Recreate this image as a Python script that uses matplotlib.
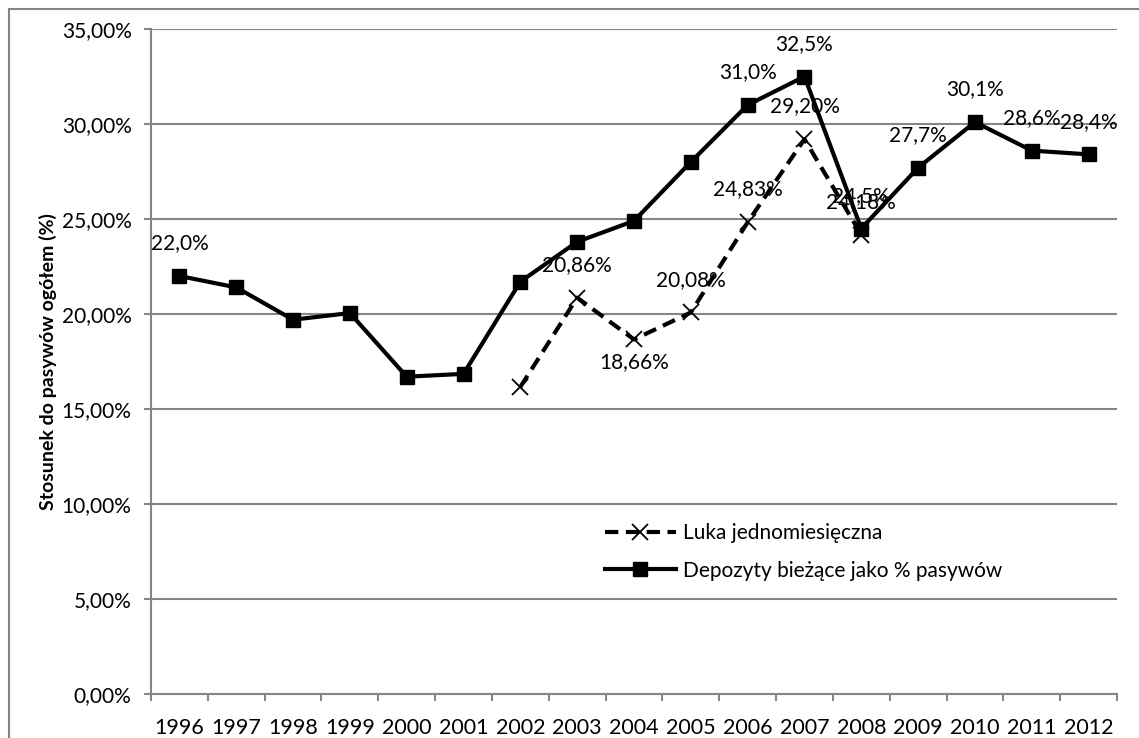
import numpy as np
import matplotlib
matplotlib.use("Agg")
from matplotlib import pyplot as plt
from matplotlib.patches import Rectangle
from matplotlib.ticker import FuncFormatter, FixedLocator

plt.rcParams['font.family'] = ['Lato', 'DejaVu Sans']

# data
years = [str(y) for y in range(1996, 2013)]
deposits = [22.0, 21.4, 19.7, 20.05, 16.7, 16.85, 21.7, 23.8, 24.9, 28.0,
            31.0, 32.5, 24.5, 27.7, 30.1, 28.6, 28.4]
gap = [np.nan] * 6 + [16.16, 20.86, 18.66, 20.08, 24.83, 29.20, 24.18] + [np.nan] * 4

# which points carry a data label
deposits_labelled = [0, 10, 11, 12, 13, 14, 15, 16]
gap_labelled = [7, 8, 9, 10, 11, 12]
gap_below = [8]

GRAY = '#868686'

fig = plt.figure(figsize=(11.39, 7.38), dpi=100)
ax = fig.add_axes([151 / 1139, 1 - 694 / 738, 966 / 1139, 665 / 738])

# outer chart border
fig.patches.append(Rectangle((9 / 1139, -0.05), 1.2, 1 - 9 / 738 + 0.05,
                             transform=fig.transFigure, fill=False,
                             edgecolor=GRAY, linewidth=1.5))

x = np.arange(len(years))
ax.plot(x, gap, color='black', linewidth=3, dashes=(3.2, 1.8),
        marker='x', markersize=11, markeredgewidth=1.3,
        label='Luka jednomiesięczna', zorder=3)
ax.plot(x, deposits, color='black', linewidth=3,
        marker='s', markersize=10,
        label='Depozyty bieżące jako % pasywów', zorder=4)

for i in deposits_labelled:
    ax.annotate(f"{deposits[i]:.1f}%".replace('.', ','), (x[i], deposits[i]),
                xytext=(0, 23.5), textcoords='offset points',
                ha='center', va='center', fontsize=15, zorder=5)
for i in gap_labelled:
    dy = -16 if i in gap_below else 23.5
    ax.annotate(f"{gap[i]:.2f}%".replace('.', ','), (x[i], gap[i]),
                xytext=(0, dy), textcoords='offset points',
                ha='center', va='center', fontsize=15, zorder=5)

ax.set_ylim(0, 35)
ax.set_yticks(np.arange(0, 36, 5))
ax.yaxis.set_major_formatter(FuncFormatter(lambda v, p: f"{v:.2f}%".replace('.', ',')))
ax.set_xlim(-0.5, len(years) - 0.5)
ax.xaxis.set_major_locator(FixedLocator(np.arange(-0.5, len(years), 1.0)))
ax.xaxis.set_major_formatter(FuncFormatter(lambda v, p: ''))
ax.xaxis.set_minor_locator(FixedLocator(x))
ax.set_xticklabels(years, minor=True)

ax.grid(axis='y', color=GRAY, linewidth=1.5)
ax.set_axisbelow(True)
for s in ['top', 'right']:
    ax.spines[s].set_visible(False)
for s in ['left', 'bottom']:
    ax.spines[s].set_color(GRAY)
    ax.spines[s].set_linewidth(1.5)

ax.tick_params(axis='y', length=5, width=1.5, color=GRAY, labelsize=15, pad=9)
ax.tick_params(axis='x', which='major', length=5, width=1.5, color=GRAY)
ax.tick_params(axis='x', which='minor', length=0, labelsize=15.5, pad=17)

ax.set_ylabel('Stosunek do pasywów ogółem (%)', fontsize=14, fontweight='bold')
ax.yaxis.set_label_coords(-0.097, 0.5)

ax.legend(loc='upper left', bbox_to_anchor=(605 / 1139, 1 - 523 / 738),
          bbox_transform=fig.transFigure, frameon=False, fontsize=15,
          borderpad=0, borderaxespad=0, handlelength=3.4, handletextpad=0.35,
          labelspacing=0.85)

fig.savefig('out.png', dpi=100)
